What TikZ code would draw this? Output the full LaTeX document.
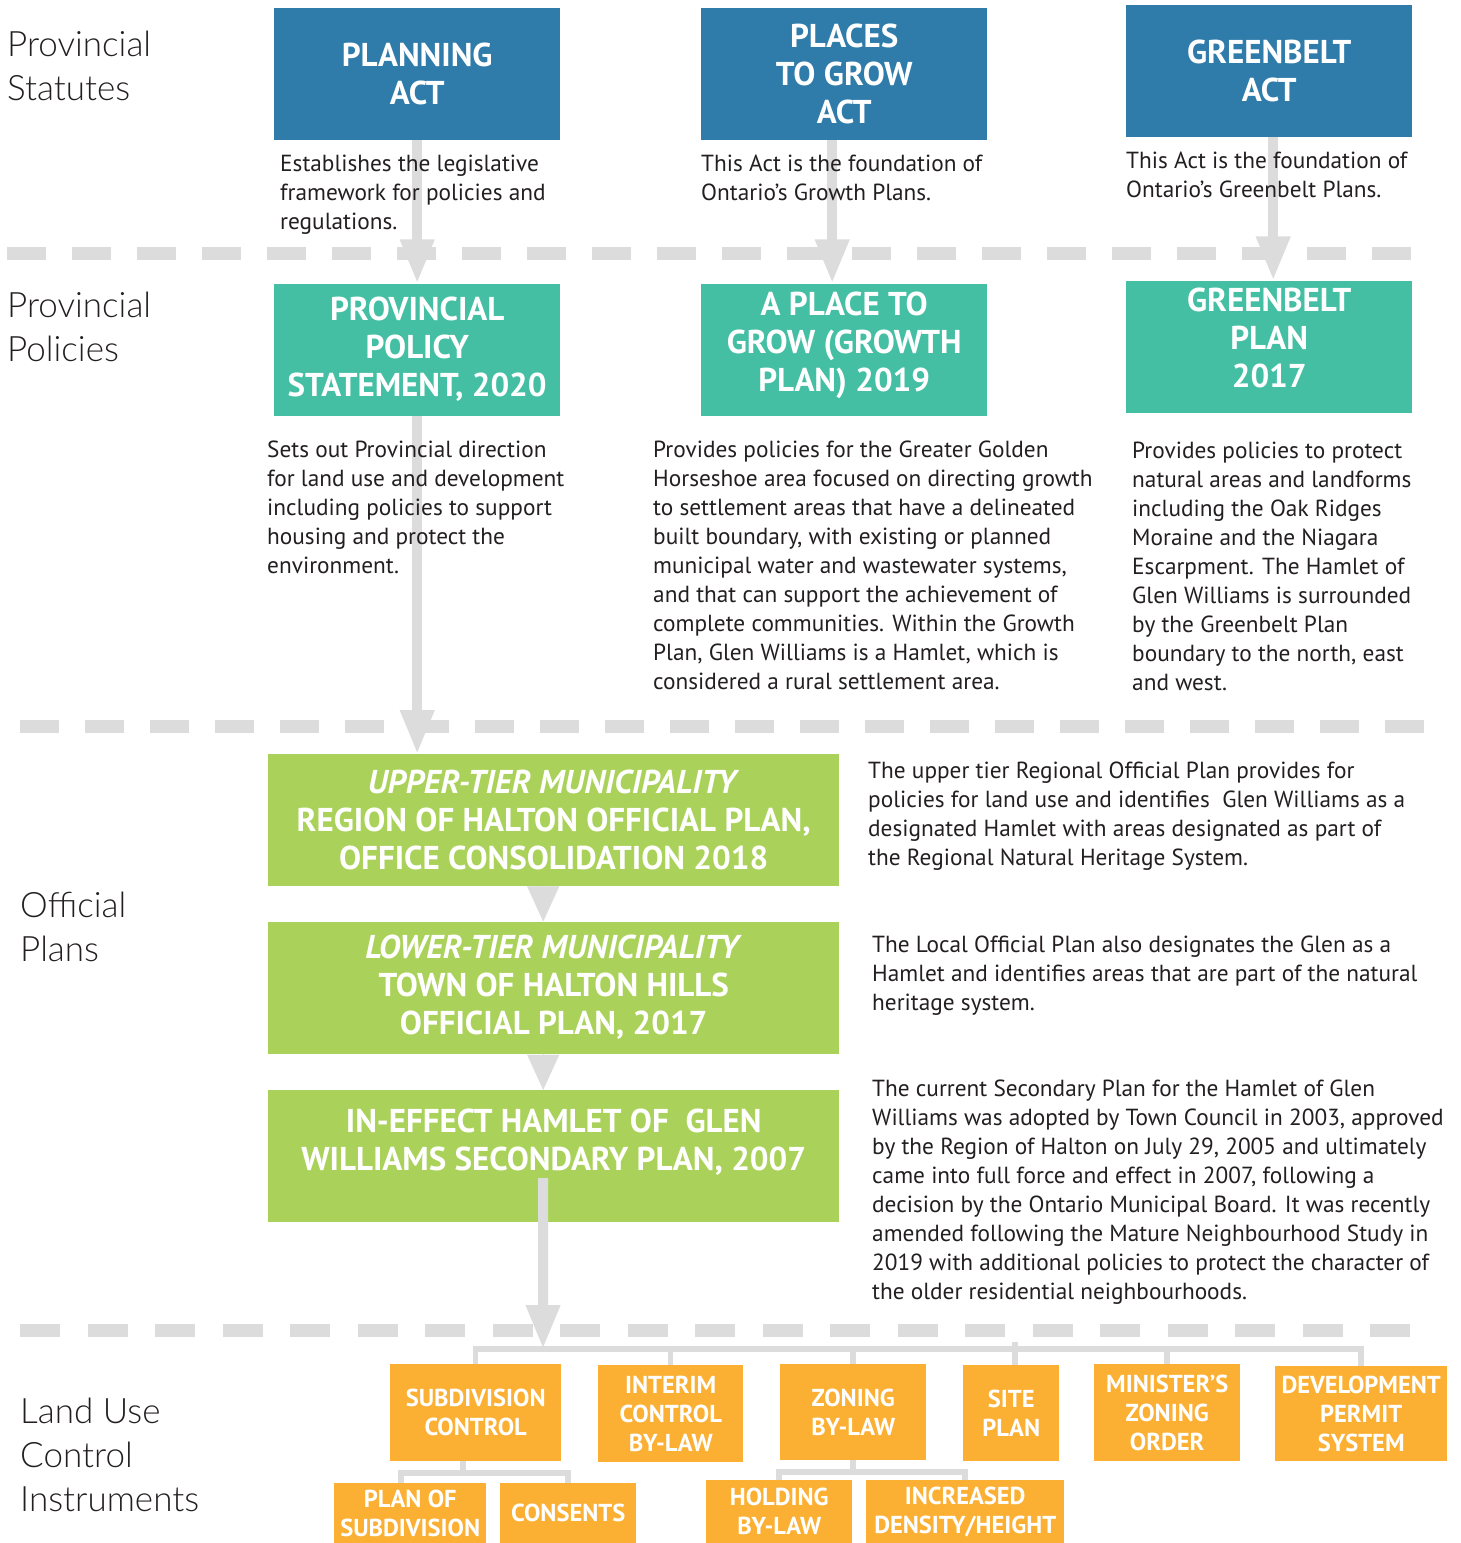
\documentclass[tikz,border=0pt]{standalone}
\usepackage{fontspec}
\setmainfont{PT Sans}
\newfontfamily\lightfont{Lato Light}
\usetikzlibrary{arrows.meta,positioning,backgrounds}

\definecolor{statblue}{HTML}{2F7CAB}
\definecolor{polteal}{HTML}{45BFA4}
\definecolor{plangreen}{HTML}{AAD25A}
\definecolor{toolorange}{HTML}{FBB034}
\definecolor{linegray}{HTML}{DCDCDC}
\definecolor{bodytext}{HTML}{231F20}

\begin{document}
\begin{tikzpicture}[x=1pt,y=-1pt]

\tikzset{statute/.style={fill=statblue,text=white,font=\fontsize{33}{38}\selectfont\bfseries,align=center,inner sep=0pt,minimum width=286pt,minimum height=132pt,shape=rectangle},
policy/.style={statute,fill=polteal},
offplan/.style={statute,fill=plangreen,minimum width=571pt},
instrument/.style={fill=toolorange,text=white,font=\fontsize{24.5}{29}\selectfont\bfseries,align=center,inner sep=0pt,shape=rectangle,anchor=north west},
desc/.style={text=bodytext,font=\fontsize{23.3}{29}\selectfont,align=left,inner sep=0pt,anchor=north west},
tierlabel/.style={text=bodytext,font=\fontsize{35}{44}\lightfont,align=left,inner sep=0pt,anchor=north west},
tierrule/.style={draw=linegray,line width=13pt,dash pattern=on 39pt off 26pt},
flow/.style={draw=linegray,line width=10pt,-{Triangle[length=44pt,width=32pt]}},
step down/.style={draw=linegray,line width=0.1pt,-{Triangle[length=35pt,width=32pt]}},
branch/.style={draw=linegray,line width=5.5pt}}

\useasboundingbox (0,0) rectangle (1460,1543);

% Separators between tiers
\draw[tierrule] (7,253) -- (1411,253);
\draw[tierrule] (20,726) -- (1428,726);
\draw[tierrule,dash pattern=on 40pt off 27.5pt] (20,1330) -- (1412,1330);

% Tier labels
\node (lblstat) [tierlabel] at (7,31) {Provincial\\Statutes};
\node (lblpol) [tierlabel] at (7,292) {Provincial\\Policies};
\node (lblop) [tierlabel] at (20,892) {Official\\Plans};
\node (lbluse) [tierlabel] at (20,1398) {Land Use\\Control\\Instruments};

% Provincial statutes
\node (plan) [statute,anchor=north west] at (274,8) {PLANNING\\ACT};
\node (ptg) [statute,anchor=north west] at (701,8) {PLACES\\TO GROW\\ACT};
\node (gba) [statute,anchor=north west] at (1126,5) {GREENBELT\\ACT};

\node (plandesc) [desc] at (280,155) {Establishes the legislative\\framework for policies and\\regulations.};
\node (ptgdesc) [desc] at (701,155) {This Act is the foundation of\\Ontario’s Growth Plans.};
\node (gbadesc) [desc] at (1126,152) {This Act is the foundation of\\Ontario’s Greenbelt Plans.};

% Provincial policies
\node (pps) [below=143pt of plan,policy] {PROVINCIAL\\POLICY\\STATEMENT, 2020};
\node (gp) [below=143pt of ptg,policy,text depth=15pt] {A PLACE TO\\GROW (GROWTH\\PLAN) 2019};
\node (gbp) [below=143pt of gba,policy,text depth=18pt] {GREENBELT\\PLAN\\2017};

\node (ppsdesc) [desc] at (267,441) {Sets out Provincial direction\\for land use and development\\including policies to support\\housing and protect the\\environment.};
\node (gpdesc) [desc] at (653,441) {Provides policies for the Greater Golden\\Horseshoe area focused on directing growth\\to settlement areas that have a delineated\\built boundary, with existing or planned\\municipal water and wastewater systems,\\and that can support the achievement of\\complete communities. Within the Growth\\Plan, Glen Williams is a Hamlet, which is\\considered a rural settlement area.};
\node (gbpdesc) [desc] at (1132,442) {Provides policies to protect\\natural areas and landforms\\including the Oak Ridges\\Moraine and the Niagara\\Escarpment. The Hamlet of\\Glen Williams is surrounded\\by the Greenbelt Plan\\boundary to the north, east\\and west.};

% Official plans
\node (upper) [offplan,anchor=north west] at (268,754) {\textit{UPPER-TIER MUNICIPALITY}\\REGION OF HALTON OFFICIAL PLAN,\\OFFICE CONSOLIDATION 2018};
\node (lower) [below=35pt of upper,offplan] {\textit{LOWER-TIER MUNICIPALITY}\\TOWN OF HALTON HILLS\\OFFICIAL PLAN, 2017};
\node (sec) [below=36pt of lower,offplan,text depth=33pt] {IN-EFFECT HAMLET OF\ \ GLEN\\WILLIAMS SECONDARY PLAN, 2007};

\node (upperdesc) [desc] at (868,762) {The upper tier Regional Official Plan provides for\\policies for land use and identifies\ \ Glen Williams as a\\designated Hamlet with areas designated as part of\\the Regional Natural Heritage System.};
\node (lowerdesc) [desc] at (872,936) {The Local Official Plan also designates the Glen as a\\Hamlet and identifies areas that are part of the natural\\heritage system.};
\node (secdesc) [desc] at (872,1080) {The current Secondary Plan for the Hamlet of Glen\\Williams was adopted by Town Council in 2003, approved\\by the Region of Halton on July 29, 2005 and ultimately\\came into full force and effect in 2007, following a\\decision by the Ontario Municipal Board. It was recently\\amended following the Mature Neighbourhood Study in\\2019 with additional policies to protect the character of\\the older residential neighbourhoods.};

% Land use control instruments
\node (subdiv) [instrument,minimum width=171pt,minimum height=97pt] at (390,1364) {SUBDIVISION\\CONTROL};
\node (interim) [instrument,minimum width=145pt,minimum height=97pt] at (598,1365) {INTERIM\\CONTROL\\BY-LAW};
\node (zoning) [instrument,minimum width=146pt,minimum height=96pt] at (780,1364) {ZONING\\BY-LAW};
\node (site) [instrument,minimum width=96pt,minimum height=96pt] at (963,1365) {SITE\\PLAN};
\node (mzo) [instrument,minimum width=146pt,minimum height=97pt] at (1094,1364) {MINISTER’S\\ZONING\\ORDER};
\node (devperm) [instrument,minimum width=172pt,minimum height=95pt] at (1275,1366) {DEVELOPMENT\\PERMIT\\SYSTEM};
\node (plansub) [instrument,minimum width=152pt,minimum height=60pt] at (334,1483) {PLAN OF\\SUBDIVISION};
\node (consents) [instrument,minimum width=136pt,minimum height=60pt] at (500,1483) {CONSENTS};
\node (holding) [instrument,minimum width=146pt,minimum height=63pt] at (706,1480) {HOLDING\\BY-LAW};
\node (density) [instrument,minimum width=198pt,minimum height=63pt] at (866,1480) {INCREASED\\DENSITY/HEIGHT};

% Arrows between tiers
\begin{scope}[on background layer]
\draw[flow] (plan.south) -- (pps.north);
\draw[flow] ([xshift=-12pt]ptg.south) -- ([xshift=-12pt]ptg.south |- gp.north);
\draw[flow] ([xshift=4pt]gba.south) -- ([xshift=4pt]gba.south |- gbp.north);
\draw[flow] (pps.south) -- (pps.south |- upper.north);
\end{scope}
\draw[step down] ([xshift=-10.5pt]upper.south) -- ([xshift=-10.5pt]lower.north);
\draw[step down] ([xshift=-10.5pt]lower.south) -- ([xshift=-10.5pt]sec.north);

% Tree of instruments
\coordinate (hub) at (543,1349);
\draw[flow] ([xshift=-10.5pt,yshift=44pt]sec.south) -- (hub);
\draw[branch] (subdiv.north) -- ++(0,-15) -| (devperm.north);
\draw[branch] (interim.north) -- (interim.north |- hub);
\draw[branch] (zoning.north) -- (zoning.north |- hub);
\draw[branch] ([xshift=4pt]site.north) -- ++(0,-23);
\draw[branch] (mzo.north) -- (mzo.north |- hub);
\draw[branch] ([xshift=-12.5pt]subdiv.south) -- ++(0,12);
\draw[branch] ([xshift=-9pt]plansub.north) -- ++(0,-10) -| (consents.north);
\draw[branch] (zoning.south) -- ++(0,12);
\draw[branch] (holding.north) -- ++(0,-8) -| (density.north);

\end{tikzpicture}
\end{document}
